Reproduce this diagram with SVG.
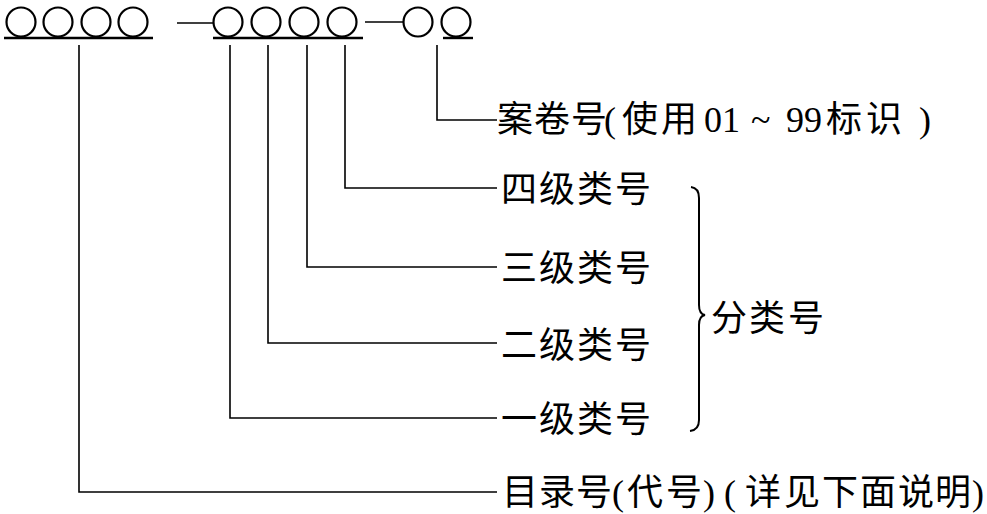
<svg xmlns="http://www.w3.org/2000/svg" width="987" height="514" viewBox="0 0 987 514">
<style>
.c{fill:none;stroke:#000;stroke-width:2.2}
.l{fill:none;stroke:#000;stroke-width:1.6}
.b{fill:none;stroke:#000;stroke-width:2}
.u{stroke:#000;stroke-width:2.4}
.t{font-family:"Liberation Serif","Noto Sans CJK SC",serif;font-size:36px;fill:#000}
</style>
<rect width="987" height="514" fill="#fff"/>
<g id="code">
<circle class="c" cx="21" cy="22" r="14.5"/>
<circle class="c" cx="58" cy="22" r="14.5"/>
<circle class="c" cx="96" cy="22" r="14.5"/>
<circle class="c" cx="133" cy="22" r="14.5"/>
<line class="u" x1="4" y1="38" x2="153" y2="38"/>
<line class="l" x1="177" y1="23" x2="213" y2="23"/>
<circle class="c" cx="228" cy="22" r="14.5"/>
<circle class="c" cx="266" cy="22" r="14.5"/>
<circle class="c" cx="304" cy="22" r="14.5"/>
<circle class="c" cx="342" cy="22" r="14.5"/>
<line class="u" x1="213" y1="38" x2="363" y2="38"/>
<line class="l" x1="365" y1="22" x2="404" y2="22"/>
<circle class="c" cx="418" cy="22" r="14.5"/>
<circle class="c" cx="456" cy="22" r="14.5"/>
<line class="u" x1="443" y1="38" x2="473" y2="38"/>
</g>
<g id="connectors">
<polyline class="l" points="437,45 437,120 497,120"/>
<polyline class="l" points="345,45 345,188 497,188"/>
<polyline class="l" points="307,45 307,267 497,267"/>
<polyline class="l" points="268,45 268,343 497,343"/>
<polyline class="l" points="230,45 230,418 497,418"/>
<polyline class="l" points="79,45 79,492 497,492"/>
<path class="b" d="M691,187 Q699,188 699,198 L699,305 Q699,314 705,315 Q699,316 699,325 L699,420 Q699,430 690,431"/>
</g>
<g id="n-juan"><text class="t" x="497 534 571 604 622 661 704 722 751 786 804 826 866 919" y="132">案卷号(使用01~99标识)</text></g>
<g id="n-4"><text class="t" x="501 539 577 615" y="202">四级类号</text></g>
<g id="n-3"><text class="t" x="501 539 577 615" y="281">三级类号</text></g>
<g id="n-2"><text class="t" x="501 539 577 615" y="358">二级类号</text></g>
<g id="n-1"><text class="t" x="501 539 577 615" y="432">一级类号</text></g>
<g id="n-fen"><text class="t" x="711 749 788" y="331">分类号</text></g>
<g id="n-mulu"><text class="t" x="502 539 576 612 627 666 703 724 745 784 822 860 898 935 972" y="505">目录号(代号)(详见下面说明)</text></g>
</svg>
